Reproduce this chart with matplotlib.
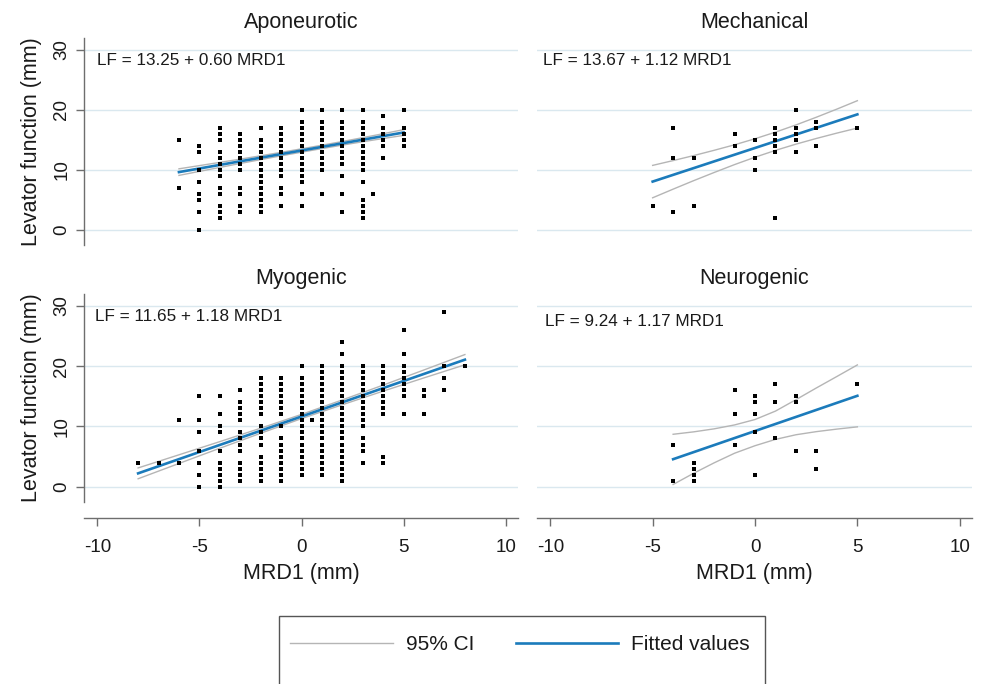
import matplotlib
matplotlib.use("Agg")
import matplotlib.pyplot as plt
from matplotlib.patches import Rectangle
import numpy as np

plt.rcParams['font.family'] = ['Liberation Sans', 'DejaVu Sans']
plt.rcParams['axes.unicode_minus'] = False

# ---------------- data ----------------
titles = ["Aponeurotic", "Mechanical", "Myogenic", "Neurogenic"]

# scatter points: MRD1 value -> list of levator function values
apo_pts = {
    -6: [15, 7],
    -5: [14, 13, 10, 8, 6, 5, 3, 0],
    -4: [17, 16, 15, 13, 12, 11, 10, 9, 7, 6, 4, 3, 2],
    -3: [16, 15, 14, 13, 12, 11, 10, 7, 6, 4, 3],
    -2: [17, 15, 14, 13, 12, 11, 10, 9, 8, 7, 6, 5, 4, 3],
    -1: [17, 16, 15, 14, 13, 12, 11, 10, 9, 7, 6, 4],
    0: [20, 18, 17, 16, 15, 14, 13, 12, 11, 10, 9, 8, 6, 4],
    1: [20, 18, 17, 16, 15, 14, 13, 12, 11, 10, 6],
    2: [20, 18, 17, 16, 15, 14, 13, 12, 11, 9, 6, 3],
    3: [20, 18, 17, 16, 15, 14, 13, 12, 11, 10, 8, 5, 4, 3, 2],
    3.5: [6],
    4: [19, 17, 16, 15, 14, 12],
    5: [20, 17, 16, 15, 14],
}
mech_pts = {
    -5: [4],
    -4: [17, 12, 3],
    -3: [12, 4],
    -1: [16, 14],
    0: [15, 12, 10],
    1: [17, 16, 15, 14, 13, 2],
    2: [20, 17, 16, 15, 13],
    3: [18, 17, 14],
    5: [17],
}
myo_pts = {
    -8: [4],
    -7: [4],
    -6: [11, 4],
    -5: [15, 11, 9, 6, 4, 2, 0],
    -4: [15, 12, 10, 9, 6, 4, 3, 2, 1, 0],
    -3: [16, 14, 13, 12, 11, 9, 8, 7, 6, 4, 3, 2, 1],
    -2: [18, 17, 16, 15, 14, 13, 12, 10, 9, 8, 7, 5, 4, 3, 2, 1],
    -1: [18, 17, 16, 15, 14, 13, 12, 10, 8, 7, 6, 5, 4, 3, 2, 1],
    0: [20, 18, 17, 16, 15, 14, 13, 12, 11, 10, 9, 8, 7, 6, 5, 4, 3, 2],
    0.5: [11],
    1: [20, 19, 18, 17, 16, 15, 14, 13, 12, 11, 10, 9, 8, 7, 6, 5, 4, 3, 2],
    2: [24, 22, 20, 19, 18, 17, 16, 15, 14, 13, 12, 11, 10, 9, 8, 7, 6, 5, 4, 3, 2, 1],
    3: [20, 19, 18, 17, 16, 15, 14, 13, 12, 11, 10, 8, 7, 6, 4],
    4: [20, 19, 18, 17, 16, 15, 14, 13, 12, 5, 4],
    5: [26, 22, 20, 19, 18, 17, 16, 15, 12],
    6: [16, 15, 12],
    7: [29, 20, 18, 16],
    8: [20],
}
neuro_pts = {
    -4: [7, 1],
    -3: [4, 3, 2, 1],
    -1: [16, 12, 7],
    0: [15, 14, 12, 9, 2],
    1: [17, 14, 8],
    2: [15, 14, 6],
    3: [6, 3],
    5: [17],
}

# fitted equations (intercept, slope) as printed on the chart
intercepts = [13.25, 13.67, 11.65, 9.24]
slopes = [0.60, 1.12, 1.18, 1.17]

# 95% CI bounds
apo_ci_x = [-6, -5, -4, -3, -2, -1, 0, 1, 2, 3, 4, 5]
apo_ci_hi = [10.2, 10.73, 11.27, 11.81, 12.37, 12.94, 13.53, 14.13, 14.75, 15.39, 16.05, 16.73]
apo_ci_lo = [9.1, 9.77, 10.43, 11.09, 11.73, 12.36, 12.97, 13.57, 14.15, 14.71, 15.25, 15.77]

mech_ci_x = [-5, -4, -3, -2, -1, 0, 1, 2, 3, 4, 5]
mech_ci_hi = [10.77, 11.57, 12.40, 13.28, 14.20, 15.21, 16.31, 17.51, 18.80, 20.15, 21.55]
mech_ci_lo = [5.37, 6.81, 8.22, 9.58, 10.90, 12.13, 13.27, 14.31, 15.26, 16.15, 16.99]

myo_ci_x = [-8, -6, -4, -2, 0, 2, 4, 6, 8]
myo_ci_hi = [3.11, 5.29, 7.48, 9.71, 12.0, 14.41, 16.87, 19.39, 21.94]
myo_ci_lo = [1.31, 3.85, 6.38, 8.87, 11.3, 13.61, 15.87, 18.07, 20.24]

neuro_ci_x = [-4, -3, -2, -1, 0, 1, 2, 3, 4, 5]
neuro_ci_hi = [8.70, 9.10, 9.60, 10.25, 11.15, 12.55, 14.45, 16.40, 18.30, 20.22]
neuro_ci_lo = [0.36, 2.22, 3.95, 5.55, 6.80, 7.85, 8.62, 9.14, 9.56, 9.93]

eq_labels = ["LF = 13.25 + 0.60 MRD1", "LF = 13.67 + 1.12 MRD1",
             "LF = 11.65 + 1.18 MRD1", "LF = 9.24 + 1.17 MRD1"]
eq_pos = [(-10.0, 28.3), (-10.35, 28.3), (-10.1, 28.3), (-10.25, 27.5)]

x_ticks = [-10, -5, 0, 5, 10]
y_ticks = [0, 10, 20, 30]

# ---------------- styling ----------------
W, H = 981, 684
BLUE = '#1b7bbb'
GRAY = '#b5b5b5'
GRID = '#dae8ef'
AXC = '#6e6e6e'
TXT = '#1a1a1a'

fig = plt.figure(figsize=(W / 100, H / 100), dpi=100)

def px_rect(l, t, r, b):
    return [l / W, 1 - b / H, (r - l) / W, (b - t) / H]

rects = [px_rect(84, 38, 518, 245), px_rect(537, 38, 972, 245),
         px_rect(84, 294, 518, 501.7), px_rect(537, 294, 972, 501.7)]

pts_all = [apo_pts, mech_pts, myo_pts, neuro_pts]
ci_all = [(apo_ci_x, apo_ci_lo, apo_ci_hi), (mech_ci_x, mech_ci_lo, mech_ci_hi),
          (myo_ci_x, myo_ci_lo, myo_ci_hi), (neuro_ci_x, neuro_ci_lo, neuro_ci_hi)]

handles = None
for i in range(4):
    ax = fig.add_axes(rects[i])
    pts = pts_all[i]
    xs = np.concatenate([[k] * len(v) for k, v in pts.items()]).astype(float)
    ys = np.concatenate([v for v in pts.values()]).astype(float)

    ax.set_xlim(-10.65, 10.6)
    ax.set_ylim(-2.5, 32)
    ax.set_yticks(y_ticks)
    ax.set_xticks(x_ticks)
    for yv in y_ticks:
        ax.axhline(yv, color=GRID, lw=1.0, zorder=0)

    cx, clo, chi = ci_all[i]
    l1, = ax.plot(cx, chi, color=GRAY, lw=1.0, zorder=2, label='95% CI')
    ax.plot(cx, clo, color=GRAY, lw=1.0, zorder=2)
    xf = np.array([xs.min(), xs.max()])
    l2, = ax.plot(xf, intercepts[i] + slopes[i] * xf, color=BLUE, lw=1.9,
                  zorder=2, label='Fitted values')
    ax.scatter(xs, ys, s=5.5, marker='s', color='black', linewidths=0, zorder=3)
    if handles is None:
        handles = [l1, l2]

    ax.text(eq_pos[i][0], eq_pos[i][1], eq_labels[i], fontsize=12.3,
            color=TXT, ha='left', va='center')
    ax.set_title(titles[i], fontsize=15.5, color=TXT, pad=7)

    for s in ['top', 'right']:
        ax.spines[s].set_visible(False)
    left = (i % 2 == 0)
    bottom = (i >= 2)
    if left:
        ax.spines['left'].set_color(AXC)
        ax.spines['left'].set_linewidth(1.0)
        ax.tick_params(axis='y', length=5.8, width=1.0, color=AXC, labelsize=13.5,
                       labelcolor=TXT, labelrotation=90, pad=4)
        for lab in ax.get_yticklabels():
            lab.set_va('center')
        ax.set_ylabel('Levator function (mm)', fontsize=15.5, color=TXT, labelpad=8)
    else:
        ax.spines['left'].set_visible(False)
        ax.tick_params(axis='y', left=False, labelleft=False)
    if bottom:
        ax.spines['bottom'].set_position(('outward', 11.7))
        ax.spines['bottom'].set_color(AXC)
        ax.spines['bottom'].set_linewidth(1.0)
        ax.tick_params(axis='x', length=5.8, width=1.0, color=AXC, labelsize=13.5,
                       labelcolor=TXT, pad=9.5)
        ax.set_xlabel('MRD1 (mm)', fontsize=15.5, color=TXT, labelpad=5)
    else:
        ax.spines['bottom'].set_visible(False)
        ax.tick_params(axis='x', bottom=False, labelbottom=False)

# legend
fig.legend(handles=handles, labels=['95% CI', 'Fitted values'], loc='center',
           bbox_to_anchor=(520 / W, 1 - 645 / H), ncol=2, frameon=False,
           fontsize=15, handlelength=4.9, handletextpad=0.63, columnspacing=2.0,
           labelcolor=TXT)
fig.add_artist(Rectangle((279 / W, -0.05), (765 - 279) / W, (1 - 616 / H) + 0.05,
                         transform=fig.transFigure, fill=False,
                         edgecolor='#555555', lw=1.0))

fig.savefig('out.png', dpi=100, facecolor='white')
